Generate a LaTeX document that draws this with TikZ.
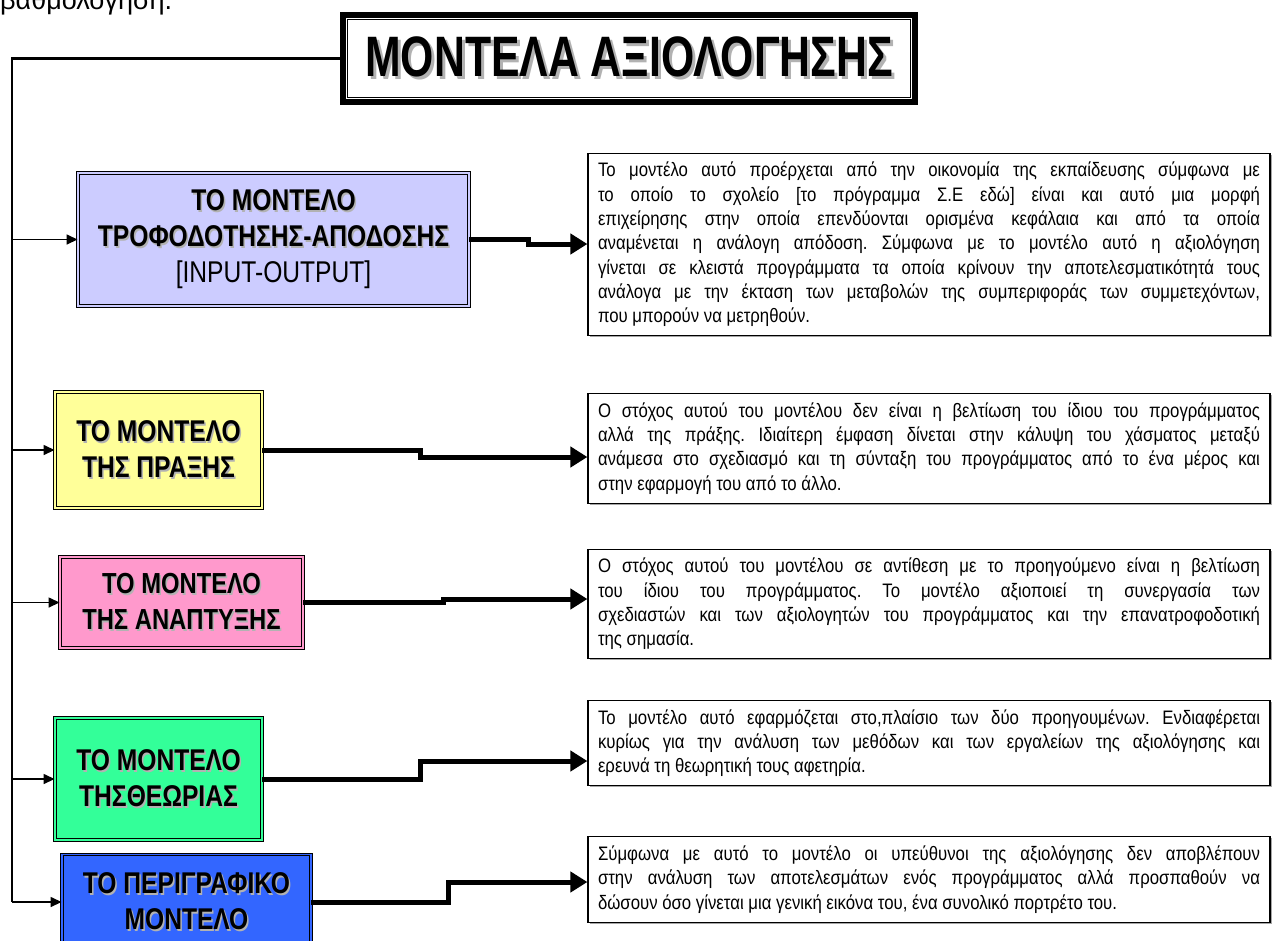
\documentclass[tikz,border=0pt]{standalone}
\usepackage{fontspec}
\setmainfont{Liberation Sans}[FakeStretch=0.86]
\newfontfamily\boxfont{Liberation Sans}[FakeStretch=0.82]
\newfontfamily\titlefont{Liberation Sans}[FakeStretch=0.75]
\newfontfamily\pagefont{Liberation Sans}
\usetikzlibrary{arrows.meta,shadows}
\frenchspacing

\definecolor{lavender}{HTML}{CCCCFF}
\definecolor{paleyellow}{HTML}{FFFF99}
\definecolor{rosepink}{HTML}{FF99CC}
\definecolor{mintgreen}{HTML}{33FF99}
\definecolor{royalblue}{HTML}{3366FF}

% text with a grey copy behind it, shifted down and right
\newcommand\shadowed[2][1.5pt]{\leavevmode\rlap{\kern#1\raisebox{-#1}{\textcolor{gray!60}{#2}}}#2}

\begin{document}
\begin{tikzpicture}[x=1pt,y=-1pt,
    modelbox/.style={draw, line width=0.9pt, double distance=1.8pt, align=center, inner sep=2pt,
      font=\boxfont\bfseries\fontsize{30}{36}\selectfont,
      drop shadow={shadow xshift=1.5pt, shadow yshift=-1.5pt, fill=black, opacity=1}},
    infobox/.style={draw, line width=1.2pt, fill=white, text width=662pt, align=justify,
      inner xsep=10pt, inner ysep=9pt, font=\fontsize{19.5}{24.3}\selectfont,
      drop shadow={shadow xshift=1.5pt, shadow yshift=-1.5pt, fill=gray!70, opacity=1}},
    trunk/.style={line width=2.5pt},
    branch/.style={line width=1.5pt, -{Triangle[length=11pt,width=10pt]}},
    link/.style={line width=5pt, -{Triangle[length=17pt,width=20pt]}}
  ]
  \useasboundingbox (0,0) rectangle (1274,940);

  % cut-off line of the page above
  \node[font=\pagefont\fontsize{27}{30}\selectfont, anchor=base west, inner sep=0pt] (pagetext) at (0,9) {βαθμολόγηση.};

  % title
  \node[draw, line width=5pt, minimum width=573pt, minimum height=88pt,
    font=\titlefont\bfseries\fontsize{57}{60}\selectfont] (title) at (629,58.5) {\shadowed[3pt]{ΜΟΝΤΕΛΑ ΑΞΙΟΛΟΓΗΣΗΣ}};
  \draw[line width=0.8pt, draw=black, double=white, double distance=1pt]
    ([shift={(6.5,6.5)}]title.north west) rectangle ([shift={(-6.5,-6.5)}]title.south east);

  % models
  \node[modelbox, fill=lavender, double=lavender, minimum width=391pt, minimum height=133pt] (mA) at (273.5,239.5)
    {\shadowed{ΤΟ ΜΟΝΤΕΛΟ}\\\shadowed{ΤΡΟΦΟΔΟΤΗΣΗΣ-ΑΠΟΔΟΣΗΣ}\\{\mdseries [INPUT-OUTPUT]}};
  \node[modelbox, fill=paleyellow, double=paleyellow, minimum width=207pt, minimum height=116pt] (mB) at (158.5,450)
    {\shadowed{ΤΟ ΜΟΝΤΕΛΟ}\\\shadowed{ΤΗΣ ΠΡΑΞΗΣ}};
  \node[modelbox, fill=rosepink, double=rosepink, minimum width=243pt, minimum height=91pt,
    font=\boxfont\bfseries\fontsize{29}{36}\selectfont] (mC) at (181.5,602.5)
    {\shadowed{ΤΟ ΜΟΝΤΕΛΟ}\\\shadowed{ΤΗΣ ΑΝΑΠΤΥΞΗΣ}};
  \node[modelbox, fill=mintgreen, double=mintgreen, minimum width=207pt, minimum height=122pt] (mD) at (158.5,779)
    {\shadowed{ΤΟ ΜΟΝΤΕΛΟ}\\\shadowed{ΤΗΣΘΕΩΡΙΑΣ}};
  \node[modelbox, fill=royalblue, double=royalblue, minimum width=249pt, minimum height=95pt] (mE) at (186.5,902)
    {\shadowed{ΤΟ ΠΕΡΙΓΡΑΦΙΚΟ}\\\shadowed{ΜΟΝΤΕΛΟ}};

  % descriptions
  \node[infobox] (tA) at (929,244.5) {Το μοντέλο αυτό προέρχεται από την οικονομία της εκπαίδευσης σύμφωνα με\linebreak
    το οποίο το σχολείο [το πρόγραμμα Σ.Ε εδώ] είναι και αυτό μια μορφή\linebreak
    επιχείρησης στην οποία επενδύονται ορισμένα κεφάλαια και από τα οποία\linebreak
    αναμένεται η ανάλογη απόδοση. Σύμφωνα με το μοντέλο αυτό η αξιολόγηση\linebreak
    γίνεται σε κλειστά προγράμματα τα οποία κρίνουν την αποτελεσματικότητά τους\linebreak
    ανάλογα με την έκταση των μεταβολών της συμπεριφοράς των συμμετεχόντων,\linebreak
    που μπορούν να μετρηθούν.};
  \node[infobox] (tB) at (929,448.5) {Ο στόχος αυτού του μοντέλου δεν είναι η βελτίωση του ίδιου του προγράμματος\linebreak
    αλλά της πράξης. Ιδιαίτερη έμφαση δίνεται στην κάλυψη του χάσματος μεταξύ\linebreak
    ανάμεσα στο σχεδιασμό και τη σύνταξη του προγράμματος από το ένα μέρος και\linebreak
    στην εφαρμογή του από το άλλο.};
  \node[infobox] (tC) at (929,604) {Ο στόχος αυτού του μοντέλου σε αντίθεση με το προηγούμενο είναι η βελτίωση\linebreak
    του ίδιου του προγράμματος. Το μοντέλο αξιοποιεί τη συνεργασία των\linebreak
    σχεδιαστών και των αξιολογητών του προγράμματος και την επανατροφοδοτική\linebreak
    της σημασία.};
  \node[infobox] (tD) at (929,743) {Το μοντέλο αυτό εφαρμόζεται στο,πλαίσιο των δύο προηγουμένων. Ενδιαφέρεται\linebreak
    κυρίως για την ανάλυση των μεθόδων και των εργαλείων της αξιολόγησης και\linebreak
    ερευνά τη θεωρητική τους αφετηρία.};
  \node[infobox] (tE) at (929,879.5) {Σύμφωνα με αυτό το μοντέλο οι υπεύθυνοι της αξιολόγησης δεν αποβλέπουν\linebreak
    στην ανάλυση των αποτελεσμάτων ενός προγράμματος αλλά προσπαθούν να\linebreak
    δώσουν όσο γίνεται μια γενική εικόνα του, ένα συνολικό πορτρέτο του.};

  % spine from the title down the left side
  \coordinate (spine) at (12,0);
  \draw[trunk] (title.west) -| (spine |- mE.west);
  \foreach \m in {mA,mB,mC,mD,mE}
    \draw[branch] (spine |- \m.west) -- (\m.west);

  % stepped links to the descriptions
  \foreach \m/\t/\sx/\ty in {mA/tA/528/244, mB/tB/420/457, mC/tC/443/599, mD/tD/420/761, mE/tE/448/882}
    \draw[link] (\m.east) -| (\sx,\ty) -- (\t.west |- 0,\ty);
\end{tikzpicture}
\end{document}
